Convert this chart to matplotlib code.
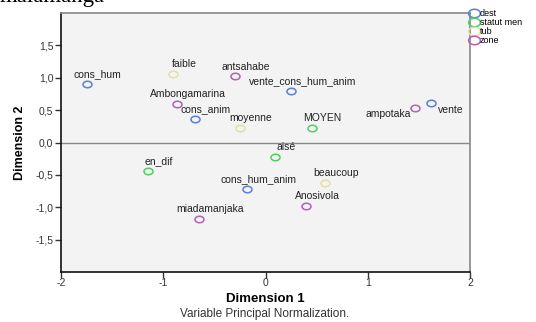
import matplotlib.pyplot as plt
from matplotlib.path import Path
import numpy as np

plt.rcParams['font.family'] = ['Liberation Sans', 'DejaVu Sans']
plt.rcParams['axes.unicode_minus'] = False

# category points (Dimension 1, Dimension 2)
labels = ["cons_hum", "vente_cons_hum_anim", "cons_anim", "vente", "cons_hum_anim",
          "MOYEN", "aisé", "en_dif",
          "faible", "moyenne", "beaucoup",
          "antsahabe", "Ambongamarina", "ampotaka", "Anosivola", "miadamanjaka"]
dim1 = [-1.75, 0.25, -0.69, 1.62, -0.18,
        0.45, 0.09, -1.15,
        -0.90, -0.25, 0.58,
        -0.30, -0.87, 1.46, 0.40, -0.65]
dim2 = [0.91, 0.79, 0.37, 0.61, -0.72,
        0.23, -0.22, -0.44,
        1.06, 0.23, -0.62,
        1.02, 0.60, 0.54, -0.98, -1.18]
groups = ["dest"] * 5 + ["statut men"] * 3 + ["tub"] * 3 + ["zone"] * 5

group_names = ["dest", "statut men", "tub", "zone"]
group_colors = {"dest": "#5a7fd6", "statut men": "#4fcf63",
                "tub": "#e3dfa6", "zone": "#b45fb8"}

# SPSS draws slightly flattened rings
circ = Path.unit_circle()
ring = Path(circ.vertices * np.array([1.0, 0.72]), circ.codes)

fig = plt.figure(figsize=(5.36, 3.22), dpi=100)
ax = fig.add_axes([61 / 536, 1 - 272 / 322, 409 / 536, 259 / 322])
ax.set_facecolor("#f3f3f3")

for name in group_names:
    idx = [i for i, g in enumerate(groups) if g == name]
    ax.plot([dim1[i] for i in idx], [dim2[i] for i in idx], linestyle="none",
            marker=ring, markersize=6.5, markerfacecolor="none", markeredgewidth=1.1,
            color=group_colors[name], label=name, clip_on=False)

# labels sit above and slightly to the right, except the two at the right
for lab, x, y in zip(labels, dim1, dim2):
    if lab == "vente":
        ax.annotate(lab, (x, y), xytext=(5, -5), textcoords="offset points",
                    ha="left", va="center", fontsize=7.5, color="#222222")
    elif lab == "ampotaka":
        ax.annotate(lab, (x, y), xytext=(-3, -5), textcoords="offset points",
                    ha="right", va="center", fontsize=7.5, color="#222222")
    else:
        ax.annotate(lab, (x, y), xytext=(8, 3.5), textcoords="offset points",
                    ha="center", va="bottom", fontsize=7.5, color="#222222")

ax.axhline(0, color="#888888", linewidth=1)
ax.set_xlim(-2, 2)
ax.set_ylim(-2, 2)
ax.set_xticks([-2, -1, 0, 1, 2])
ax.set_yticks([-1.5, -1.0, -0.5, 0.0, 0.5, 1.0, 1.5])
ax.set_yticklabels([f"{v:.1f}".replace(".", ",") for v in ax.get_yticks()])
ax.tick_params(labelsize=7.5, labelcolor="#333333", length=4, width=1, color="#333333")
ax.tick_params(axis="x", pad=0)
ax.tick_params(axis="y", pad=1.5)

for side in ["left", "bottom"]:
    ax.spines[side].set_color("#111111")
    ax.spines[side].set_linewidth(1.2)
for side in ["top", "right"]:
    ax.spines[side].set_color("#888888")
    ax.spines[side].set_linewidth(1.2)

ax.set_xlabel("Dimension 1", fontsize=9.5, fontweight="bold", labelpad=4)
ax.set_ylabel("Dimension 2", fontsize=9, fontweight="bold", labelpad=7)

fig.text(265 / 536, 1 - 314 / 322, "Variable Principal Normalization.",
         ha="center", va="center", fontsize=8.5, color="#333333")
fig.text(0.0, 1.01, "malamanga", ha="left", va="center", fontsize=16.5,
         family=["Liberation Serif", "DejaVu Serif"])

fig.legend(loc="upper left", bbox_to_anchor=(469 / 536, 1 - 9 / 322),
           frameon=False, fontsize=6.5, handletextpad=0.2, labelspacing=0.0,
           handlelength=1.0, borderaxespad=0, borderpad=0, markerscale=1.3)

fig.savefig("out.png", dpi=100)
